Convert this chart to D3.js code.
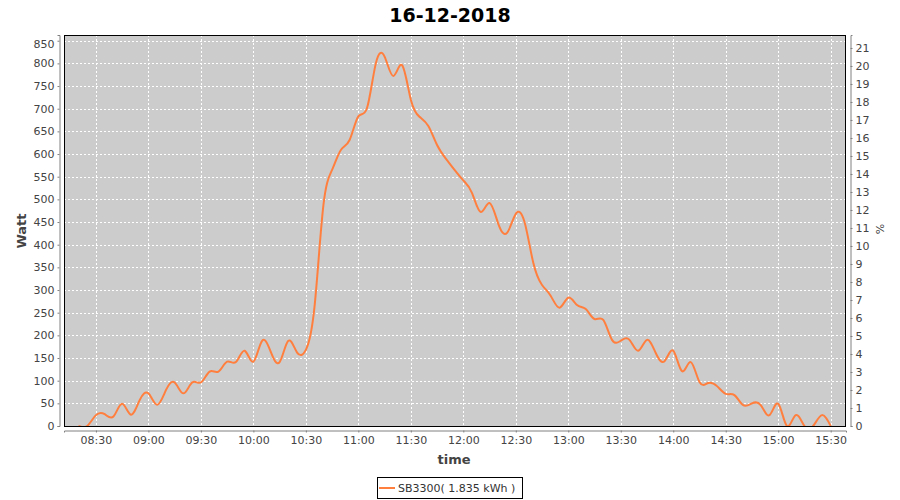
<!DOCTYPE html>
<html>
<head>
<meta charset="utf-8">
<script src="https://cdn.jsdelivr.net/npm/d3@7"></script>
<style>
  html, body { margin: 0; padding: 0; background: #ffffff; }
  svg { display: block; font-family: "DejaVu Sans", sans-serif; }
</style>
</head>
<body>
<svg id="chart" width="900" height="500"></svg>
<script>
// ---- data ----
const chartTitle = "16-12-2018";
const chartDate = "2018-12-16";
const seriesName = "SB3300( 1.835 kWh )";
const times = [
  "08:20","08:25","08:30","08:35","08:40","08:45","08:50","08:55","09:00","09:05",
  "09:10","09:15","09:20","09:25","09:30","09:35","09:40","09:45","09:50","09:55",
  "10:00","10:05","10:10","10:15","10:20","10:25","10:30","10:35","10:40","10:45",
  "10:50","10:55","11:00","11:05","11:10","11:15","11:20","11:25","11:30","11:35",
  "11:40","11:45","11:50","11:55","12:00","12:05","12:10","12:15","12:20","12:25",
  "12:30","12:35","12:40","12:45","12:50","12:55","13:00","13:05","13:10","13:15",
  "13:20","13:25","13:30","13:35","13:40","13:45","13:50","13:55","14:00","14:05",
  "14:10","14:15","14:20","14:25","14:30","14:35","14:40","14:45","14:50","14:55",
  "15:00","15:05","15:10","15:15","15:20","15:25","15:30"
];
const watts = [
  0, 0, 24, 26, 21, 49, 25, 57, 72, 47,
  79, 96, 72, 96, 96, 120, 120, 142, 141, 166,
  142, 188, 163, 141, 188, 162, 168, 265, 486, 565,
  609, 631, 683, 702, 800, 815, 772, 796, 720, 682,
  662, 620, 590, 565, 542, 514, 472, 492, 446, 426,
  468, 450, 360, 311, 287, 261, 283, 267, 258, 236,
  234, 190, 188, 190, 166, 190, 161, 143, 166, 121,
  141, 97, 95, 88, 71, 68, 46, 50, 46, 24,
  49, 0, 24, 0, 0, 24, 0
];
const xDomain = ["08:11:45", "15:38:45"];
const wattMax = 862.6;
const percentMax = 21.72;
const wattTicks = [0,50,100,150,200,250,300,350,400,450,500,550,600,650,700,750,800,850];
const percentTicks = [0,1,2,3,4,5,6,7,8,9,10,11,12,13,14,15,16,17,18,19,20,21];

// ---- layout ----
const svg = d3.select("#chart");
const L = 64, R = 846, T = 35, B = 426;
const parse = d3.timeParse("%Y-%m-%d %H:%M");
const parseS = d3.timeParse("%Y-%m-%d %H:%M:%S");
const data = times.map((t, i) => ({ t: parse(chartDate + " " + t), v: watts[i] }));

const x = d3.scaleTime()
  .domain(xDomain.map(s => parseS(chartDate + " " + s)))
  .range([L, R]);
const y = d3.scaleLinear().domain([0, wattMax]).range([B, T]);
const y2 = d3.scaleLinear().domain([0, percentMax]).range([B, T]);

svg.append("rect").attr("width", 900).attr("height", 500).attr("fill", "#ffffff");

// title
svg.append("text")
  .attr("x", 450).attr("y", 22)
  .attr("text-anchor", "middle")
  .attr("font-size", 19).attr("font-weight", "bold")
  .attr("fill", "#000")
  .text(chartTitle);

// plot background
svg.append("rect")
  .attr("x", L).attr("y", T).attr("width", R - L).attr("height", B - T)
  .attr("fill", "#cccccc");

const xTicks = x.ticks(d3.timeMinute.every(30));

// grid
const grid = svg.append("g").attr("stroke", "#ffffff").attr("stroke-width", 1)
  .attr("stroke-dasharray", "2,2").attr("shape-rendering", "crispEdges");
grid.selectAll("line.h").data(wattTicks).join("line")
  .attr("x1", L).attr("x2", R)
  .attr("y1", d => Math.round(y(d)) + 0.5).attr("y2", d => Math.round(y(d)) + 0.5);
grid.selectAll("line.v").data(xTicks).join("line")
  .attr("y1", T).attr("y2", B)
  .attr("x1", d => Math.round(x(d)) + 0.5).attr("x2", d => Math.round(x(d)) + 0.5);

// clip & line
svg.append("clipPath").attr("id", "plotclip")
  .append("rect").attr("x", L).attr("y", T).attr("width", R - L).attr("height", B - T);

const line = d3.line()
  .x(d => x(d.t)).y(d => y(d.v))
  .curve(d3.curveNatural);

svg.append("path")
  .datum(data)
  .attr("clip-path", "url(#plotclip)")
  .attr("fill", "none")
  .attr("stroke", "#ff7f3f")
  .attr("stroke-width", 2)
  .attr("stroke-linejoin", "round")
  .attr("d", line);

// outline
svg.append("rect")
  .attr("x", L + 0.5).attr("y", T + 0.5).attr("width", R - L - 1).attr("height", B - T)
  .attr("fill", "none").attr("stroke", "#000").attr("stroke-width", 1);

// axes
function styleAxis(g) {
  g.selectAll(".domain").attr("stroke", "#808080");
  g.selectAll(".tick line").attr("stroke", "#808080");
  g.selectAll(".tick text").attr("fill", "#444444")
    .attr("font-family", "DejaVu Sans, sans-serif").attr("font-size", 11);
}

const gL = svg.append("g").attr("transform", `translate(${L - 4.5},0)`)
  .call(d3.axisLeft(y).tickValues(wattTicks).tickSizeInner(2).tickSizeOuter(2).tickPadding(3));
styleAxis(gL);
gL.selectAll(".tick").filter(d => d === 850).select("text").attr("dy", "0.6em");

const gR = svg.append("g").attr("transform", `translate(${R + 4.5},0)`)
  .call(d3.axisRight(y2).tickValues(percentTicks).tickSizeInner(2).tickSizeOuter(2).tickPadding(3));
styleAxis(gR);

const gB = svg.append("g").attr("transform", `translate(0,${B + 4.5})`)
  .call(d3.axisBottom(x).tickValues(xTicks).tickFormat(d3.timeFormat("%H:%M"))
    .tickSizeInner(2).tickSizeOuter(2).tickPadding(4));
styleAxis(gB);

// axis labels
svg.append("text")
  .attr("transform", "translate(26,231) rotate(-90)")
  .attr("text-anchor", "middle")
  .attr("font-size", 13).attr("font-weight", "bold").attr("fill", "#444444")
  .text("Watt");

svg.append("text")
  .attr("transform", "translate(884,229) rotate(-90)")
  .attr("text-anchor", "middle")
  .attr("font-size", 11).attr("fill", "#444444")
  .text("%");

svg.append("text")
  .attr("x", 454).attr("y", 464)
  .attr("text-anchor", "middle")
  .attr("font-size", 13).attr("font-weight", "bold").attr("fill", "#444444")
  .text("time");

// legend
const lg = svg.append("g");
lg.append("rect")
  .attr("x", 377.5).attr("y", 477.5).attr("width", 145).attr("height", 21)
  .attr("fill", "#ffffff").attr("stroke", "#000").attr("stroke-width", 1);
lg.append("line")
  .attr("x1", 379).attr("x2", 395).attr("y1", 488).attr("y2", 488)
  .attr("stroke", "#ff7f3f").attr("stroke-width", 2);
lg.append("text")
  .attr("x", 398).attr("y", 492)
  .attr("font-size", 11).attr("fill", "#333333")
  .text(seriesName);
</script>
</body>
</html>
